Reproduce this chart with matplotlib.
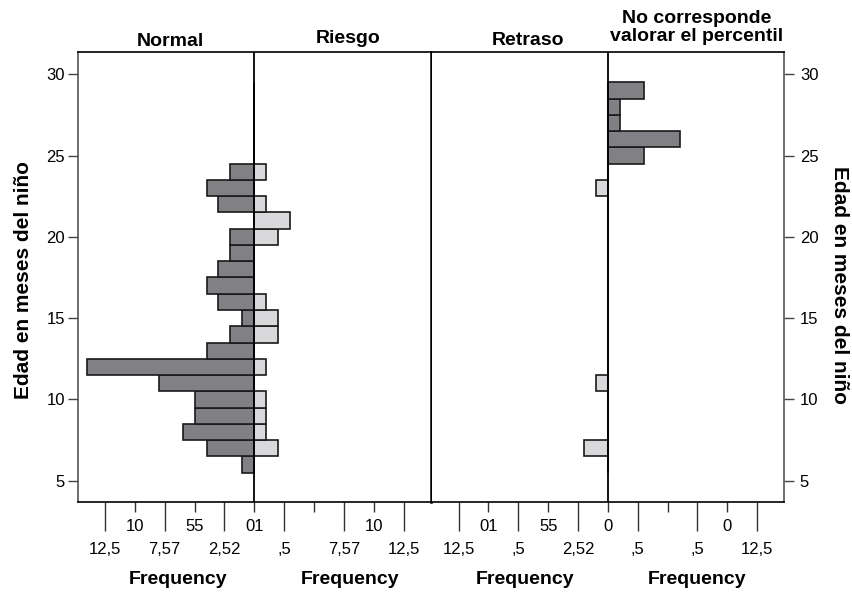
import matplotlib
matplotlib.use("Agg")
import matplotlib.pyplot as plt
from matplotlib.ticker import FixedLocator, FixedFormatter

plt.rcParams['font.family'] = ['Liberation Sans', 'DejaVu Sans']

# ---- data ----
edad = list(range(6, 30))
normal =   [1, 4, 6, 5, 5, 8, 14, 4, 2, 1, 3, 4, 3, 2, 2, 0, 3, 4, 2, 0, 0, 0, 0, 0]
riesgo =   [0, 2, 1, 1, 1, 0, 1, 0, 2, 2, 1, 0, 0, 0, 2, 3, 1, 0, 1, 0, 0, 0, 0, 0]
retraso =  [0, 2, 0, 0, 0, 1, 0, 0, 0, 0, 0, 0, 0, 0, 0, 0, 0, 1, 0, 0, 0, 0, 0, 0]
no_corr =  [0, 0, 0, 0, 0, 0, 0, 0, 0, 0, 0, 0, 0, 0, 0, 0, 0, 0, 0, 3, 6, 1, 1, 3]

titles = ["Normal", "Riesgo", "Retraso", "No corresponde\nvalorar el percentil"]
ylabel = "Edad en meses del niño"
xlabel = "Frequency"
y_ticks = [5, 10, 15, 20, 25, 30]

major_pos = [-12.5, -7.5, -2.5, 2.5, 7.5, 12.5]
minor_pos = [-10, -5, 0, 5, 10]
left_major_labels = ["12,5", "7,57", "2,52", ",5", "7,57", "12,5"]
left_minor_labels = ["10", "55", "01", "", "10"]
right_major_labels = ["12,5", ",5", "2,52", ",5", ",5", "12,5"]
right_minor_labels = ["01", "55", "0", "", "0"]

DARK = "#808085"
LIGHT = "#d9d9db"
EDGE = "#1a1a1a"

W, H = 852, 592
fig = plt.figure(figsize=(W / 100, H / 100), dpi=100)

def frac(x0, y0, x1, y1):
    return [x0 / W, 1 - y1 / H, (x1 - x0) / W, (y1 - y0) / H]

axL = fig.add_axes(frac(77.7, 52, 431, 502))
axR = fig.add_axes(frac(431.5, 52, 784.3, 502))

XL = 14.77
YLIM = (3.69, 31.37)

def style(ax, major_labels, minor_labels):
    ax.set_xlim(-XL, XL)
    ax.set_ylim(*YLIM)
    ax.axvline(0, color="black", lw=1.3, zorder=3)
    ax.xaxis.set_major_locator(FixedLocator(major_pos))
    ax.xaxis.set_major_formatter(FixedFormatter(major_labels))
    ax.xaxis.set_minor_locator(FixedLocator(minor_pos))
    ax.xaxis.set_minor_formatter(FixedFormatter(minor_labels))
    ax.tick_params(axis="x", which="major", length=21, width=1.0, pad=8,
                   labelsize=12, color="#333333")
    ax.tick_params(axis="x", which="minor", length=7.2, width=1.0, pad=5,
                   labelsize=12, color="#333333")
    ax.set_yticks(y_ticks)
    for s in ax.spines.values():
        s.set_color("black")
        s.set_linewidth(1.2)

style(axL, left_major_labels, left_minor_labels)
style(axR, right_major_labels, right_minor_labels)

kw = dict(height=1.0, edgecolor=EDGE, linewidth=1.2, zorder=2)
axL.barh(edad, [-v for v in normal], color=DARK, **kw)
axL.barh(edad, riesgo, color=LIGHT, **kw)
axR.barh(edad, [-v for v in retraso], color=LIGHT, **kw)
axR.barh(edad, no_corr, color=DARK, **kw)

axL.tick_params(axis="y", left=True, right=False, labelleft=True, labelright=False,
                length=7.2, width=1.0, pad=2, labelsize=12, color="#444444")
axR.tick_params(axis="y", left=False, right=True, labelleft=False, labelright=True,
                length=7.2, width=1.0, pad=4, labelsize=12, color="#444444")
axL.spines["left"].set_color("#555555")
axR.spines["right"].set_color("#555555")
axL.spines["right"].set_linewidth(1.8)
axR.spines["left"].set_visible(False)

def ftext(x, y, s, **k):
    fig.text(x / W, 1 - y / H, s, **k)

bold = dict(fontsize=14, fontweight="bold", ha="center", va="baseline")
ftext(170, 46, titles[0], **bold)
ftext(348, 43.3, titles[1], **bold)
ftext(528, 45, titles[2], **bold)
l1, l2 = titles[3].split("\n")
ftext(697, 23, l1, **bold)
ftext(697, 41, l2, **bold)

for x in (178, 350, 525, 697):
    ftext(x, 584, xlabel, **bold)

ftext(24, 280, ylabel, fontsize=15, fontweight="bold", ha="center", va="center",
      rotation=90)
ftext(840, 285, ylabel, fontsize=15, fontweight="bold", ha="center", va="center",
      rotation=-90)

fig.savefig("out.png", dpi=100)
